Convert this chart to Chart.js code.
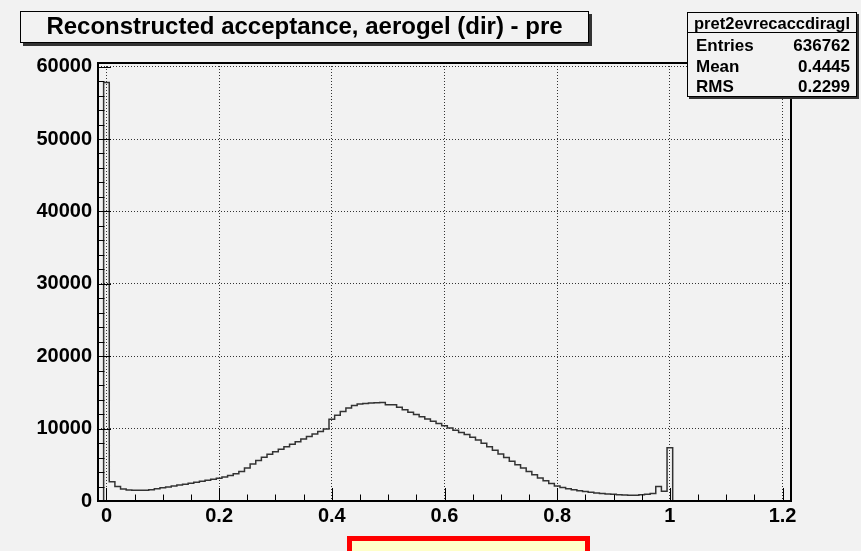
<!DOCTYPE html>
<html>
<head>
<meta charset="utf-8">
<script src="https://cdn.jsdelivr.net/npm/chart.js@4.4.1/dist/chart.umd.min.js"></script>
<style>
  html, body { margin: 0; padding: 0; background: #f2f2f2; }
  body { width: 861px; height: 551px; position: relative; overflow: hidden; font-family: "Liberation Sans", Arial, sans-serif; }
  #c { position: absolute; left: 0; top: 0; }
  .abs { position: absolute; }
  #title { left: 20px; top: 11px; width: 567px; height: 30px; border: 1px solid #000; background: #f2f2f2;
           box-shadow: 3px 3px 0 #333; font-weight: bold; font-size: 24px; line-height: 28px; text-align: center; color: #000; white-space: nowrap; }
  #stats { left: 687px; top: 12px; width: 170px; height: 85px; box-sizing: border-box; border: 1px solid #000; background: #f2f2f2; box-shadow: 2px 2px 0 #333; }
  #statsHead { left: 687px; top: 13px; width: 170px; height: 20px; line-height: 20px; text-align: center; font-weight: bold; font-size: 16.5px; color: #000; }
  #statsSep { left: 687px; top: 32px; width: 170px; height: 1px; background: #000; }
  .srow { left: 696px; width: 154px; height: 20px; line-height: 20px; font-weight: bold; font-size: 17px; color: #000; }
  .srow .v { position: absolute; right: 0; top: 0; }
  #redbox { left: 347px; top: 536px; width: 243px; height: 40px; box-sizing: border-box; border: 5px solid #ff0000; background: #ffffc8; }
</style>
</head>
<body>
<canvas id="c" width="861" height="551"></canvas>
<div id="title" class="abs"></div>
<div id="stats" class="abs"></div>
<div id="statsHead" class="abs"></div>
<div id="statsSep" class="abs"></div>
<div id="statsRows"></div>
<div id="redbox" class="abs"></div>
<script>
// ---------- data ----------
const chartTitle = "Reconstructed acceptance, aerogel (dir) - pre";
const histName = "pret2evrecaccdiragl";
const statsLabels = ["Entries", "Mean", "RMS"];
const statsValues = ["636762", "0.4445", "0.2299"];

const binLowEdge = -0.015;
const binWidth = 0.01;
// counts per bin, bin centres -0.01, 0.00, 0.01, ... 1.21
const binCounts = [
  0,
  57800, 2650, 2000, 1650, 1530, 1500, 1480, 1470, 1560, 1700,
  1820, 1930, 2060, 2200, 2330, 2460, 2600, 2730, 2860, 2990,
  3150, 3320, 3520, 3760, 4080, 4550, 5100, 5600, 6050, 6450,
  6800, 7150, 7500, 7850, 8200, 8550, 8900, 9250, 9600, 9950,
  11300, 11850, 12350, 12850, 13200, 13400, 13480, 13530, 13570, 13620,
  13300, 13300, 12950, 12600, 12270, 11950, 11650, 11330, 11020, 10700,
  10380, 10070, 9770, 9470, 9170, 8820, 8420, 7980, 7500, 7000,
  6500, 6000, 5500, 5020, 4550, 4080, 3620, 3180, 2780, 2420,
  2080, 1860, 1690, 1540, 1420, 1310, 1210, 1120, 1040, 980,
  920, 870, 830, 790, 800, 860, 940, 1050, 2000, 1350,
  7350,
  0, 0, 0, 0, 0, 0, 0, 0, 0, 0,
  0, 0, 0, 0, 0, 0, 0, 0, 0, 0, 0
];

const xTickValues = [0, 0.2, 0.4, 0.6, 0.8, 1.0, 1.2];
const xTickLabels = ["0", "0.2", "0.4", "0.6", "0.8", "1", "1.2"];
const yTickValues = [0, 10000, 20000, 30000, 40000, 50000, 60000];
const yTickLabels = ["0", "10000", "20000", "30000", "40000", "50000", "60000"];
const xMinorStep = 0.05;
const yMinorStep = 2000;
const xMin = -0.015, xMax = 1.215, yMin = 0, yMax = 60500;

// ---------- text boxes ----------
document.getElementById('title').textContent = chartTitle;
document.getElementById('statsHead').textContent = histName;
const rowTops = [36, 56.5, 77];
const rowsEl = document.getElementById('statsRows');
statsLabels.forEach((lab, i) => {
  const d = document.createElement('div');
  d.className = 'abs srow';
  d.style.top = rowTops[i] + 'px';
  d.innerHTML = '<span></span><span class="v"></span>';
  d.children[0].textContent = lab;
  d.children[1].textContent = statsValues[i];
  rowsEl.appendChild(d);
});

// ---------- histogram as step outline (point at each bin's low edge) ----------
const points = binCounts.map((v, i) => ({ x: binLowEdge + i * binWidth, y: v }));
points.push({ x: binLowEdge + binCounts.length * binWidth, y: binCounts[binCounts.length - 1] });

const tickFont = { family: "'Liberation Sans', Arial, sans-serif", size: 20, weight: 'bold' };

const frameTicks = {
  id: 'frameTicks',
  afterDraw(chart) {
    const { ctx, chartArea: a, scales: { x, y } } = chart;
    ctx.save();
    ctx.strokeStyle = '#000';
    ctx.lineWidth = 1;
    ctx.beginPath();
    for (let k = 0; ; k++) {
      const v = xTickValues[0] + k * xMinorStep;
      if (v > xMax + 1e-9) break;
      const major = Math.abs(v / 0.2 - Math.round(v / 0.2)) < 1e-6;
      const px = Math.round(x.getPixelForValue(v)) + 0.5;
      ctx.moveTo(px, a.bottom);
      ctx.lineTo(px, a.bottom - (major ? 13 : 6.5));
    }
    for (let k = 0; ; k++) {
      const v = yTickValues[0] + k * yMinorStep;
      if (v > yMax + 1e-9) break;
      const major = v % 10000 === 0;
      const py = Math.round(y.getPixelForValue(v)) + 0.5;
      ctx.moveTo(a.left, py);
      ctx.lineTo(a.left + (major ? 13 : 6.5), py);
    }
    ctx.stroke();
    ctx.lineWidth = 2;
    ctx.strokeRect(a.left, a.top, a.right - a.left, a.bottom - a.top);
    ctx.restore();
  }
};

new Chart(document.getElementById('c'), {
  type: 'line',
  data: {
    datasets: [{
      data: points,
      stepped: 'before',
      borderColor: '#333333',
      borderWidth: 1.5,
      pointRadius: 0,
      fill: false,
      tension: 0
    }]
  },
  options: {
    responsive: false,
    animation: false,
    events: [],
    layout: { padding: { left: 0, right: 70, top: 63, bottom: 0 } },
    plugins: { legend: { display: false }, tooltip: { enabled: false }, title: { display: false } },
    scales: {
      x: {
        type: 'linear', min: xMin, max: xMax,
        afterBuildTicks: s => { s.ticks = xTickValues.map(v => ({ value: v })); },
        afterFit: s => { s.height = 50; },
        ticks: { autoSkip: false, maxRotation: 0, padding: 3, color: '#000', font: tickFont,
                 callback: (v, i) => xTickLabels[i] },
        grid: { color: '#333', lineWidth: 1, drawTicks: false },
        border: { display: false, dash: [1, 2] }
      },
      y: {
        type: 'linear', min: yMin, max: yMax,
        afterBuildTicks: s => { s.ticks = yTickValues.map(v => ({ value: v })); },
        afterFit: s => { s.width = 98; },
        ticks: { autoSkip: false, padding: 6, color: '#000', font: tickFont,
                 callback: (v, i) => yTickLabels[i] },
        grid: { color: '#333', lineWidth: 1, drawTicks: false },
        border: { display: false, dash: [1, 2] }
      }
    }
  },
  plugins: [frameTicks]
});
</script>
</body>
</html>
